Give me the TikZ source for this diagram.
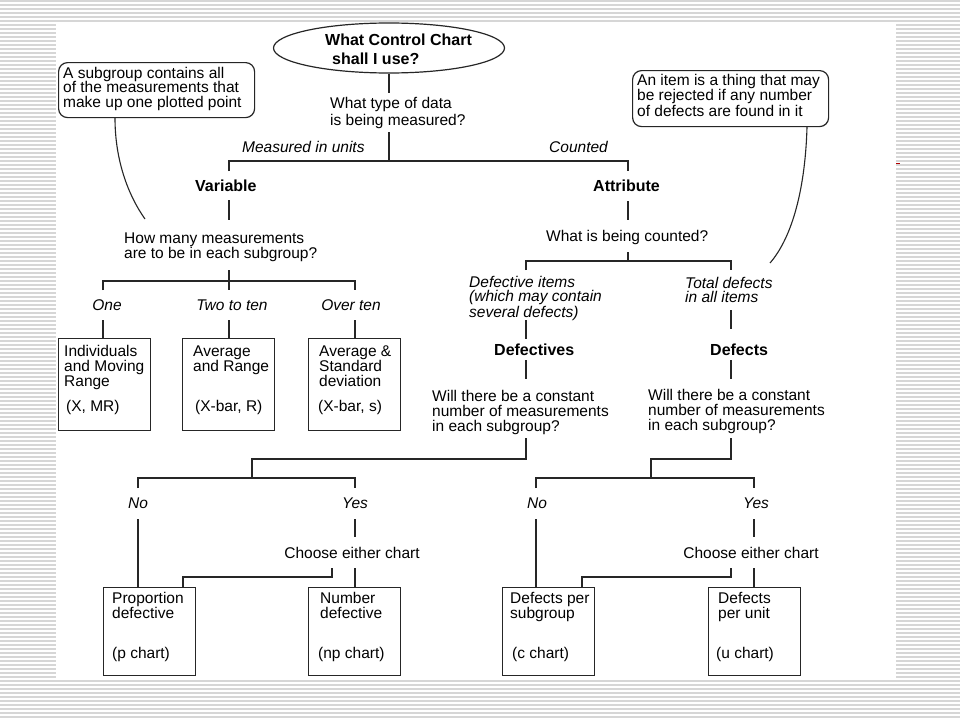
\documentclass[tikz,border=0pt]{standalone}
\usepackage{fontspec}
\setmainfont{Liberation Sans}
\usetikzlibrary{shapes.geometric}

\tikzset{
  ln/.style={line width=1.4pt, draw=black!85},
  stripe/.style={line width=1.1pt, draw=gray!32},
  txt/.style={inner sep=0pt, align=left, anchor=base west, font=\fontsize{15.5}{15}\selectfont},
  lbl/.style={txt, font=\fontsize{15.5}{14}\selectfont\itshape},
  ctr/.style={inner sep=0pt, anchor=base, font=\fontsize{15.5}{15}\selectfont},
  hd/.style={inner sep=0pt, align=left, anchor=base west, font=\fontsize{16}{19}\selectfont\bfseries},
  chart/.style={draw=black!85, line width=1.4pt, minimum width=92pt, minimum height=#1, anchor=north west, inner sep=0pt},
  note/.style={draw=black!85, line width=1.2pt, rounded corners=9pt, minimum width=196pt, minimum height=#1, anchor=north west, inner sep=0pt},
}

\begin{document}
\begin{tikzpicture}[x=1pt,y=-1pt]
\useasboundingbox (0,0) rectangle (960,720);
% striped slide background
\foreach \y in {1,5,...,717} \draw[stripe] (0,\y) -- (960,\y);
\fill[white] (56,22) rectangle (896,678);
\draw[red!70!black, line width=1pt] (896,163) -- (900,163);

% start (multi-line nodes sit on the baseline of their last line)
\node[ellipse, draw=black!85, line width=1.2pt, minimum width=231pt, minimum height=50pt] (start) at (389,48) {};
\node[hd] (title) at (325,64.5) {What Control Chart\\\hspace*{7pt}shall I use?};
\node[txt, font=\fontsize{15.5}{17}\selectfont] (qtype) at (330,125) {What type of data\\is being measured?};
\node[lbl] (munits) at (242,152) {Measured in units};
\node[lbl] (cntd) at (549,152) {Counted};
\node[hd] (var) at (195,191) {Variable};
\node[hd] (attr) at (593,191) {Attribute};

% notes
\node[note=55pt] (nsub) at (58,62) {};
\node[txt, font=\fontsize{15.5}{14.5}\selectfont] at (63,107) {A subgroup contains all\\of the measurements that\\make up one plotted point};
\node[note=56pt] (nitem) at (632,70) {};
\node[txt, font=\fontsize{15.5}{14}\selectfont] at (637,116) {An item is a thing that may\\be rejected if any number\\of defects are found in it};
\coordinate (tsub) at (145,219); \coordinate (titem) at (770,263);
\draw[line width=1.1pt, black!85] (nsub.south west -| 115,0) .. controls (115,160) and (128,195) .. (tsub);
\draw[line width=1.1pt, black!85] (nitem.south west -| 807,0) .. controls (805,195) and (790,240) .. (titem);

% variable side
\node[txt] (qhow) at (124,258) {How many measurements\\are to be in each subgroup?};
\node[ctr, font=\fontsize{15.5}{15}\selectfont\itshape] (one) at (107,310) {One};
\node[ctr, font=\fontsize{15.5}{15}\selectfont\itshape] (two) at (232,310) {Two to ten};
\node[ctr, font=\fontsize{15.5}{15}\selectfont\itshape] (over) at (351,310) {Over ten};

\node[chart=92pt] (ind) at (58,338) {};
\node[txt] at (64,386) {Individuals\\and Moving\\Range}; \node[txt] at (66,411) {(X, MR)};
\node[chart=92pt] (avr) at (182,338) {};
\node[txt] at (193,371) {Average\\and Range}; \node[txt] at (195,411) {(X-bar, R)};
\node[chart=92pt] (avs) at (308,338) {};
\node[txt] at (319,386) {Average \&\\Standard\\deviation}; \node[txt] at (318,411) {(X-bar, s)};

% attribute side
\node[txt] (qcnt) at (546,241) {What is being counted?};
\node[lbl] (ditems) at (469,317) {Defective items\\(which may contain\\several defects)};
\node[lbl] (tdef) at (685,302) {Total defects\\in all items};
\node[hd] (dves) at (494,355) {Defectives};
\node[hd] (dcts) at (710,355) {Defects};
\node[txt] (qcon1) at (432,431) {Will there be a constant\\number of measurements\\in each subgroup?};
\node[txt] (qcon2) at (648,430) {Will there be a constant\\number of measurements\\in each subgroup?};

\node[ctr, font=\fontsize{15.5}{15}\selectfont\itshape] (no1) at (138,508) {No};
\node[ctr, font=\fontsize{15.5}{15}\selectfont\itshape] (yes1) at (355,508) {Yes};
\node[ctr, font=\fontsize{15.5}{15}\selectfont\itshape] (no2) at (537,508) {No};
\node[ctr, font=\fontsize{15.5}{15}\selectfont\itshape] (yes2) at (756,508) {Yes};
\node[ctr] (ch1) at (352,558) {Choose either chart};
\node[ctr] (ch2) at (751,558) {Choose either chart};

\node[chart=88pt] (pch) at (103,587) {};
\node[txt] at (112,618) {Proportion\\defective}; \node[txt] at (112,658) {(p chart)};
\node[chart=88pt] (npch) at (308,587) {};
\node[txt] at (320,618) {Number\\defective}; \node[txt] at (318,658) {(np chart)};
\node[chart=88pt] (cch) at (502,587) {};
\node[txt] at (510,618) {Defects per\\subgroup}; \node[txt] at (512,658) {(c chart)};
\node[chart=88pt] (uch) at (708,587) {};
\node[txt] at (718,618) {Defects\\per unit}; \node[txt] at (716,658) {(u chart)};

% junctions
\coordinate (jtype) at (389,161);
\coordinate (jhow) at (229,281);
\coordinate (jcnt) at (628,261);
\coordinate (jcon1) at (252,478);
\coordinate (jcon2) at (651,478);

% connectors
\draw[ln] (start.south) -- ++(0,19);
\draw[ln] (389,132) -- (jtype);
\draw[ln] (229,171) |- (jtype) -| (628,171);
\draw[ln] (229,200) -- (229,220);
\draw[ln] (628,201) -- (628,220);
\draw[ln] (229,270) -- (jhow);
\draw[ln] (103,290) |- (jhow) -| (355,290);
\draw[ln] (jhow) -- (229,290);
\draw[ln] (103,320) -- (ind.north -| 103,0);
\draw[ln] (229,320) -- (avr.north -| 229,0);
\draw[ln] (355,320) -- (avs.north -| 355,0);
\draw[ln] (628,252) -- (jcnt);
\draw[ln] (526,270) |- (jcnt) -| (731,270);
\draw[ln] (526,320) -- (526,339);
\draw[ln] (731,310) -- (731,329);
\draw[ln] (526,360) -- (526,379);
\draw[ln] (731,360) -- (731,379);
\draw[ln] (526,438) -- (526,459) -| (jcon1);
\draw[ln] (731,438) -- (731,459) -| (jcon2);
\draw[ln] (138,488) |- (jcon1) -| (355,488);
\draw[ln] (536,488) |- (jcon2) -| (754,488);
\draw[ln] (138,519) -- (pch.north -| 138,0);
\draw[ln] (355,519) -- (355,537);
\draw[ln] (332,568) -- (332,577) -| (pch.north -| 183,0);
\draw[ln] (355,568) -- (npch.north -| 355,0);
\draw[ln] (536,519) -- (cch.north -| 536,0);
\draw[ln] (754,519) -- (754,537);
\draw[ln] (731,568) -- (731,577) -| (cch.north -| 582,0);
\draw[ln] (754,568) -- (uch.north -| 754,0);
\end{tikzpicture}
\end{document}
